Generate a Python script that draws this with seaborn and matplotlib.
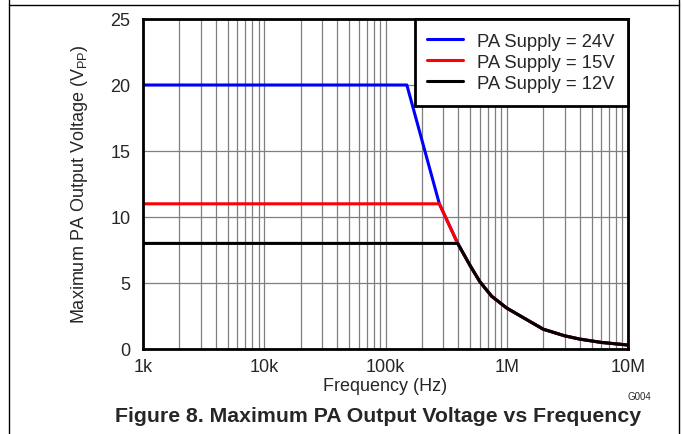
import numpy as np
import pandas as pd
import matplotlib.pyplot as plt
from matplotlib.lines import Line2D
import seaborn as sns

# curve points (frequency in Hz, output in Vpp)
freq_24 = [1e3, 150e3, 278e3, 394e3, 500e3, 600e3, 750e3, 1e6, 2e6, 3e6, 4e6, 6e6, 10e6]
vout_24 = [20, 20, 11, 8.0, 6.3, 5.1, 4.0, 3.1, 1.5, 1.0, 0.75, 0.5, 0.3]
freq_15 = [1e3, 278e3, 394e3, 500e3, 600e3, 750e3, 1e6, 2e6, 3e6, 4e6, 6e6, 10e6]
vout_15 = [11, 11, 8.0, 6.3, 5.1, 4.0, 3.1, 1.5, 1.0, 0.75, 0.5, 0.3]
freq_12 = [1e3, 394e3, 500e3, 600e3, 750e3, 1e6, 2e6, 3e6, 4e6, 6e6, 10e6]
vout_12 = [8, 8.0, 6.3, 5.1, 4.0, 3.1, 1.5, 1.0, 0.75, 0.5, 0.3]

series_names = ['PA Supply = 24V', 'PA Supply = 15V', 'PA Supply = 12V']
series_colors = ['#0000ff', '#ff0000', '#000000']

xticks = [1e3, 1e4, 1e5, 1e6, 1e7]
xtick_labels = ['1k', '10k', '100k', '1M', '10M']
yticks = [0, 5, 10, 15, 20, 25]

sns.set_style('white')
plt.rcParams['font.family'] = ['Liberation Sans', 'DejaVu Sans']
plt.rcParams['mathtext.fontset'] = 'custom'
plt.rcParams['mathtext.rm'] = 'Liberation Sans'

fig = plt.figure(figsize=(6.83, 4.34), dpi=100)
ax = fig.add_axes([143 / 683, 1 - 349 / 434, 485 / 683, 330 / 434])

frames = [
    pd.DataFrame({'f': freq_24, 'v': vout_24}),
    pd.DataFrame({'f': freq_15, 'v': vout_15}),
    pd.DataFrame({'f': freq_12, 'v': vout_12}),
]
for df, name, col in zip(frames, series_names, series_colors):
    sns.lineplot(data=df, x='f', y='v', ax=ax, color=col, lw=2.2, label=name)

ax.set_xscale('log')
ax.set_xlim(1e3, 1e7)
ax.set_ylim(0, 25)
ax.set_xticks(xticks)
ax.set_xticklabels(xtick_labels)
ax.set_yticks(yticks)
ax.grid(True, which='both', axis='x', color='#7f7f7f', lw=0.9)
ax.grid(True, which='major', axis='y', color='#7f7f7f', lw=0.9)
ax.tick_params(axis='x', which='both', length=0, labelsize=13, pad=7)
ax.tick_params(axis='y', which='both', length=0, labelsize=13, pad=9)
for s in ax.spines.values():
    s.set_color('black')
    s.set_linewidth(2)

ax.set_xlabel('Frequency (Hz)', fontsize=13)
ax.xaxis.set_label_coords(0.5, -0.088)
ax.set_ylabel(r'Maximum PA Output Voltage (V$_{\mathregular{PP}}$)', fontsize=13)
ax.yaxis.set_label_coords(-0.11, 0.5)

leg = ax.legend(loc='upper right', fontsize=13.3, frameon=True, fancybox=False,
                borderaxespad=0, handlelength=1.9, handletextpad=0.8,
                handleheight=1.08, labelspacing=0.1, borderpad=0.7)
leg.get_frame().set_edgecolor('black')
leg.get_frame().set_linewidth(2)
leg.get_frame().set_alpha(1)

fig.text(639 / 683, 1 - 397 / 434, 'G004', fontsize=7, ha='center', va='center')
fig.text(378 / 683, 1 - 417 / 434, 'Figure 8. Maximum PA Output Voltage vs Frequency',
         fontsize=15.3, fontweight='bold', ha='center', va='center')

# page frame lines
fig.add_artist(Line2D([9 / 683, 9 / 683], [0, 1], color='black', lw=1))
fig.add_artist(Line2D([679 / 683, 679 / 683], [0, 1], color='black', lw=1))
fig.add_artist(Line2D([9 / 683, 679 / 683], [1 - 5 / 434, 1 - 5 / 434], color='black', lw=1))

fig.savefig('out.png', dpi=100)
